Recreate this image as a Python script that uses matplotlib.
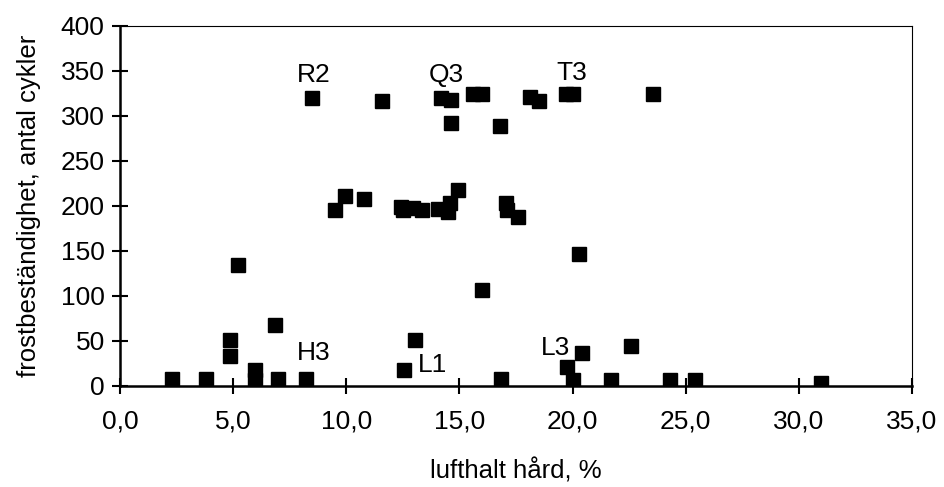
import matplotlib
matplotlib.use('Agg')
from matplotlib import pyplot as plt

plt.rcParams['font.family'] = ['Liberation Sans', 'DejaVu Sans']

# lufthalt hård, % and frostbeständighet, antal cykler
air = [
    8.5, 11.6, 14.2, 14.65, 15.6, 16.0, 14.65, 16.8, 18.1, 18.5,
    19.7, 20.0, 23.55,
    9.5, 9.95, 10.8, 12.4, 12.5, 12.95, 13.35, 14.05, 14.5, 14.6, 14.95,
    17.05, 17.1, 17.6,
    5.2, 16.0, 20.3,
    6.85, 4.85, 4.85, 13.05, 12.55, 5.95, 22.6, 20.4, 19.75,
    2.3, 3.8, 5.95, 7.0, 8.2, 16.85, 20.0, 21.7, 24.3, 25.4, 31.0,
]
cycles = [
    320, 316, 320, 317, 324, 324, 292, 289, 321, 316,
    324, 324, 324,
    195, 211, 208, 199, 195, 198, 195, 196, 193, 203, 218,
    203, 195, 188,
    134, 106, 146,
    67, 51, 33, 51, 17, 17, 44, 36, 21,
    7, 7, 6, 7, 7, 7, 6, 6, 6, 6, 3,
]

labels = ['R2', 'Q3', 'T3', 'H3', 'L1', 'L3']
label_x = [8.55, 14.4, 19.95, 8.55, 13.8, 19.25]
label_y = [345, 345, 347, 36, 23, 42]

x_ticks = [0, 5, 10, 15, 20, 25, 30, 35]
x_ticklabels = ['0,0', '5,0', '10,0', '15,0', '20,0', '25,0', '30,0', '35,0']
y_ticks = [0, 50, 100, 150, 200, 250, 300, 350, 400]

fig = plt.figure(figsize=(9.45, 4.87), dpi=100)
ax = fig.add_axes([0.127, 0.208, 0.838, 0.739])

ax.plot(air, cycles, linestyle='none', marker='s', markersize=9.5,
        color='black')

for text, tx, ty in zip(labels, label_x, label_y):
    ax.text(tx, ty, text, ha='center', va='center', fontsize=19)

ax.set_xlim(0, 35)
ax.set_ylim(0, 400)
ax.set_xticks(x_ticks)
ax.set_xticklabels(x_ticklabels)
ax.set_yticks(y_ticks)

ax.tick_params(axis='both', direction='inout', length=12, width=1.5,
               labelsize=19, color='black')
ax.tick_params(axis='x', pad=11)
ax.tick_params(axis='y', pad=5)

for side in ['left', 'bottom']:
    ax.spines[side].set_linewidth(1.8)
for side in ['top', 'right']:
    ax.spines[side].set_linewidth(0.8)

ax.set_xlabel('lufthalt hård, %', fontsize=18.5, labelpad=18)
ax.set_ylabel('frostbeständighet, antal cykler', fontsize=18.5, labelpad=14)

fig.savefig('out.png', dpi=100)
